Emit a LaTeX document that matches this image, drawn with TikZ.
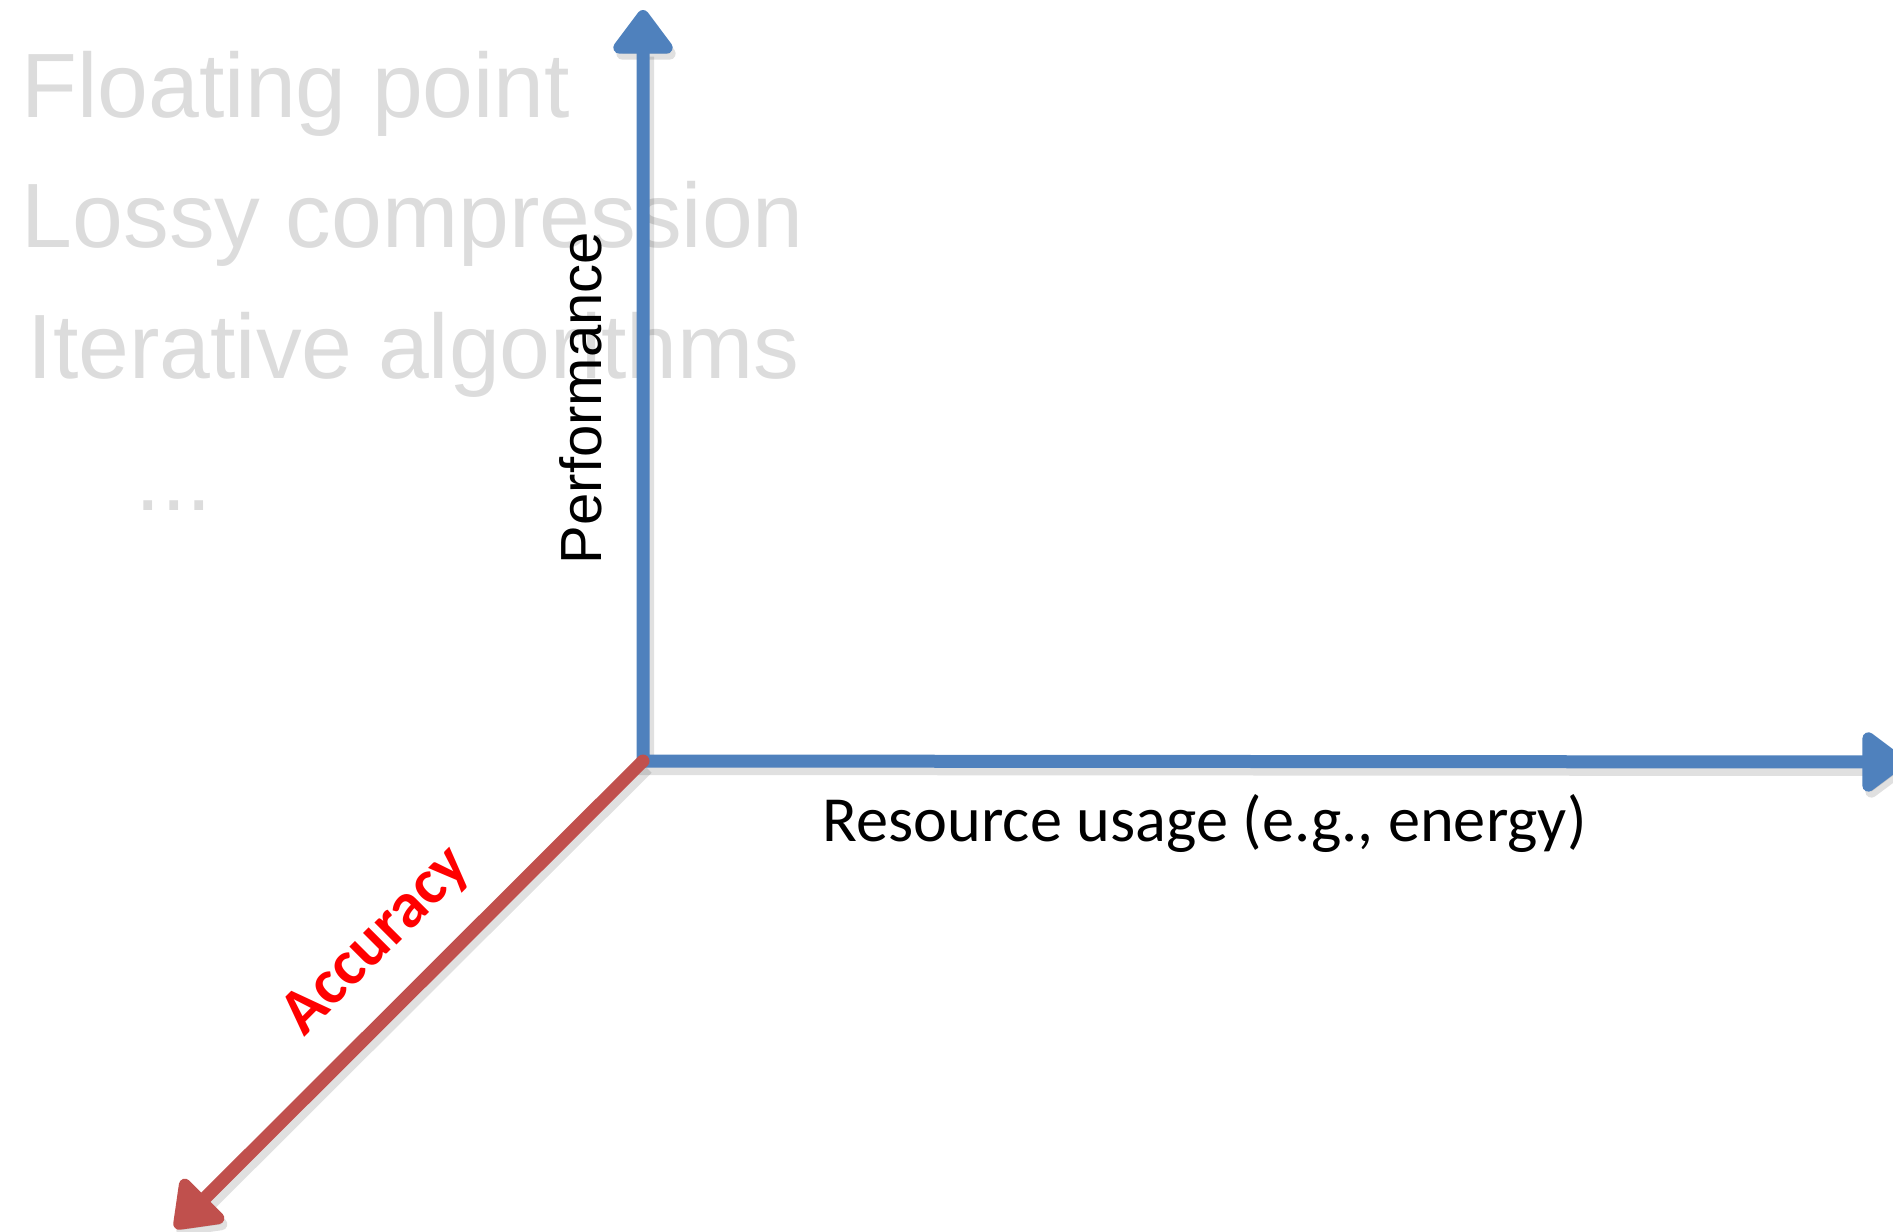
\documentclass[tikz,border=0pt]{standalone}
\usepackage{fontspec}
\setmainfont{Liberation Sans}
\newfontfamily\calibri{Carlito}
\usetikzlibrary{arrows.meta}
\definecolor{axisblue}{HTML}{4F81BD}
\definecolor{axisred}{HTML}{C0504D}
\definecolor{fadedgray}{HTML}{DCDCDC}
\tikzset{
  axisline/.style={line width=1.3mm, line cap=round, line join=round,
    preaction={draw=black, opacity=0.12, line width=1.6mm,
      transform canvas={shift={(0.3mm,-0.6mm)}}}},
  fadeditem/.style={font=\fontsize{26}{31}\selectfont, text=fadedgray, anchor=base west, inner sep=0pt}
}
\begin{document}
\begin{tikzpicture}[x=0.1mm,y=-0.1mm]
\useasboundingbox (0,0) rectangle (1893,1231);

% faded list on the left
\node[fadeditem] (fp) at (21,117) {Floating point};
\node[fadeditem] (lossy) at (21,247) {Lossy compression};
\node[fadeditem] (iter) at (27,378) {Iterative algorithms};
\node[fadeditem] (dots) at (135,510) {...};

% axes
\coordinate (O) at (643,761);
\coordinate (ytip) at (643,10);
\coordinate (xtip) at (1906,762);
\coordinate (ztip) at (175,1228);
\draw[axisline, draw=axisblue, {Triangle[round,width=6.8mm,length=4.8mm]}-{Triangle[round,width=6.8mm,length=4.8mm]}] (ytip) -- (O) -- (xtip);
\draw[axisline, draw=axisred, -{Triangle[round,width=6.8mm,length=4.8mm]}] (O) -- (ztip);

% axis labels
\node[font=\fontsize{16.5}{20}\selectfont, rotate=90, anchor=base, inner sep=0pt] (perf) at (601,398) {Performance};
\node[font=\calibri\fontsize{18.3}{22}\selectfont, anchor=base west, inner sep=0pt] (res) at (822,841) {Resource usage (e.g., energy)};
\node[font=\calibri\bfseries\fontsize{18.3}{22}\selectfont, text=red, rotate=45, inner sep=0pt] (acc) at (377,942) {Accuracy};

\end{tikzpicture}
\end{document}
